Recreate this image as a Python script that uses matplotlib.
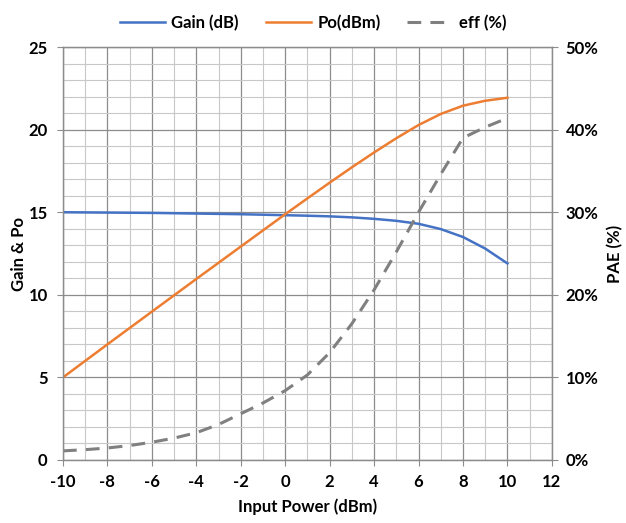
import matplotlib
matplotlib.use("Agg")
import matplotlib.pyplot as plt
from matplotlib.ticker import MultipleLocator, FuncFormatter

plt.rcParams['font.family'] = ['Lato', 'DejaVu Sans']
plt.rcParams['axes.unicode_minus'] = False

pin = [-10, -9, -8, -7, -6, -5, -4, -3, -2, -1, 0, 1, 2, 3, 4, 5, 6, 7, 8, 9, 10]
gain = [15.0, 14.99, 14.98, 14.97, 14.96, 14.94, 14.92, 14.9, 14.88, 14.85, 14.82,
        14.79, 14.75, 14.69, 14.6, 14.48, 14.3, 13.98, 13.5, 12.8, 11.9]
po = [5.0, 6.0, 7.0, 7.99, 8.98, 9.97, 10.96, 11.94, 12.92, 13.9, 14.88,
      15.84, 16.79, 17.72, 18.62, 19.48, 20.28, 20.95, 21.45, 21.75, 21.93]
eff = [1.1, 1.25, 1.45, 1.75, 2.15, 2.65, 3.3, 4.3, 5.6, 6.9, 8.4,
       10.3, 13.0, 16.5, 20.6, 25.2, 30.0, 34.6, 39.0, 40.3, 41.4]

fig = plt.figure(figsize=(6.26, 5.23), dpi=100)
ax = fig.add_axes([0.1006, 0.1205, 0.781, 0.7895])
ax2 = ax.twinx()

l1, = ax.plot(pin, gain, color='#4472C4', lw=1.8, label='Gain (dB)')
l2, = ax.plot(pin, po, color='#ED7D31', lw=1.8, label='Po(dBm)')
l3, = ax2.plot(pin, eff, color='#808080', lw=2.2, ls=(0, (4.5, 3)), label='eff (%)')

ax.set_xlim(-10, 12)
ax.set_ylim(0, 25)
ax2.set_ylim(0, 50)

ax.xaxis.set_major_locator(MultipleLocator(2))
ax.xaxis.set_minor_locator(MultipleLocator(1))
ax.yaxis.set_major_locator(MultipleLocator(5))
ax.yaxis.set_minor_locator(MultipleLocator(1))
ax2.yaxis.set_major_locator(MultipleLocator(10))
ax2.yaxis.set_major_formatter(FuncFormatter(lambda v, p: '%d%%' % v))

ax.grid(which='major', color='#8c8c8c', lw=0.9)
ax.grid(which='minor', color='#c8c8c8', lw=0.8)
ax.set_axisbelow(True)

for a in (ax, ax2):
    for s in a.spines.values():
        s.set_color('#8c8c8c')
        s.set_linewidth(0.9)
    a.tick_params(which='major', length=4, color='#8c8c8c', labelsize=12, colors='black')
    a.tick_params(which='minor', length=0)
    for t in a.get_xticklabels() + a.get_yticklabels():
        t.set_fontweight('bold')
ax.tick_params(axis='y', pad=7)
ax.tick_params(axis='x', pad=6)
ax2.tick_params(axis='y', pad=6)

ax.set_xlabel('Input Power (dBm)', fontsize=12, fontweight='bold', labelpad=6)
ax.set_ylabel('Gain & Po', fontsize=12, fontweight='bold', labelpad=1)
ax2.set_ylabel('PAE (%)', fontsize=12, fontweight='bold', labelpad=6)

fig.legend(handles=[l1, l2, l3], loc='upper center', bbox_to_anchor=(0.5, 1.0),
           ncol=3, frameon=False, prop={'size': 12, 'weight': 'bold'},
           handlelength=2.7, columnspacing=1.6, handletextpad=0.4)

fig.savefig('out.png', dpi=100)
